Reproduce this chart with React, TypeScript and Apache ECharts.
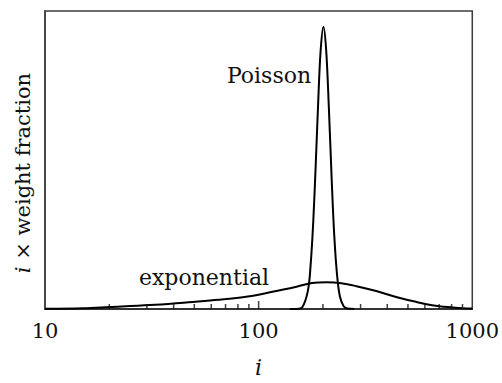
import React, { useEffect, useRef } from "react";
import * as echarts from "echarts";

// exponential (most probable) distribution: i and i × weight fraction (arbitrary units)
const expI = [10, 15, 20, 31, 47, 65, 89, 116, 152, 178, 208, 244, 287, 355, 440, 545, 674, 834, 1000];
const expY = [0.006, 0.016, 0.04, 0.08, 0.14, 0.188, 0.254, 0.35, 0.46, 0.53, 0.546, 0.526, 0.466, 0.366, 0.246, 0.146, 0.066, 0.026, 0.008];

// Poisson distribution
const poiI = [140, 150, 160, 170, 175, 180, 185, 190, 195, 201, 207, 213, 220, 226, 233, 240, 250, 260, 280];
const poiY = [0, 0.001, 0.035, 0.37, 0.88, 1.75, 2.94, 4.22, 5.26, 5.76, 5.29, 4.14, 2.59, 1.49, 0.68, 0.26, 0.054, 0.009, 0];

// x-axis tick positions (log scale)
const minorTickValues = [20, 30, 40, 50, 60, 70, 80, 90, 200, 300, 400, 500, 600, 700, 800, 900];
const majorTickValues = [100];
const xTickLabels = ["10", "100", "1000"];

const seriesNames = ["exponential", "Poisson"];

const FONT = "DejaVu Serif";

export default function App() {
  const ref = useRef<HTMLDivElement>(null);
  useEffect(() => {
    if (!ref.current) return;
    const chart = echarts.init(ref.current, undefined, { renderer: "svg" });
    chart.setOption({
      animation: false,
      backgroundColor: "#ffffff",
      grid: {
        left: 45,
        right: 25,
        top: 11,
        bottom: 68,
        show: true,
        borderColor: "#3c3c3c",
        borderWidth: 1.5,
        backgroundColor: "transparent",
      },
      xAxis: {
        type: "log",
        logBase: 10,
        min: 10,
        max: 1000,
        name: "{it|i}",
        nameLocation: "middle",
        nameGap: 47,
        nameTextStyle: {
          rich: { it: { fontFamily: FONT, fontStyle: "italic", fontSize: 22, color: "#111" } },
        },
        axisLine: { show: true, lineStyle: { color: "#222", width: 1.5 } },
        axisTick: { show: false },
        splitLine: { show: false },
        minorTick: { show: false },
        axisLabel: {
          margin: 11,
          fontFamily: FONT,
          fontSize: 21,
          color: "#111",
          formatter: (v: number) => {
            const s = String(Math.round(v));
            return xTickLabels.includes(s) ? s : "";
          },
        },
      },
      yAxis: {
        type: "value",
        min: 0,
        max: 6.08,
        axisLine: { show: true, lineStyle: { color: "#3c3c3c", width: 1.5 } },
        axisTick: { show: false },
        axisLabel: { show: false },
        splitLine: { show: false },
      },
      series: [
        {
          name: seriesNames[0],
          type: "line",
          data: expI.map((x, k) => [x, expY[k]]),
          showSymbol: false,
          smooth: 0.35,
          clip: true,
          lineStyle: { color: "#000", width: 2 },
          z: 3,
        },
        {
          name: seriesNames[1],
          type: "line",
          data: poiI.map((x, k) => [x, poiY[k]]),
          showSymbol: false,
          smooth: 0.35,
          clip: true,
          lineStyle: { color: "#000", width: 2 },
          z: 3,
        },
        {
          type: "scatter",
          data: minorTickValues.map((v) => [v, 0]),
          symbol: "rect",
          symbolSize: [1.5, 5],
          symbolOffset: [0, -2.5],
          itemStyle: { color: "#111" },
          silent: true,
          clip: false,
          z: 4,
        },
        {
          type: "scatter",
          data: majorTickValues.map((v) => [v, 0]),
          symbol: "rect",
          symbolSize: [1.5, 8],
          symbolOffset: [0, -4],
          itemStyle: { color: "#111" },
          silent: true,
          clip: false,
          z: 4,
        },
      ],
      graphic: [
        {
          type: "text",
          x: 269,
          y: 75,
          style: {
            text: seriesNames[1],
            font: `22px "${FONT}"`,
            fill: "#111",
            textAlign: "center",
            textVerticalAlign: "middle",
          },
        },
        {
          type: "text",
          x: 204,
          y: 277,
          style: {
            text: seriesNames[0],
            font: `22px "${FONT}"`,
            fill: "#111",
            textAlign: "center",
            textVerticalAlign: "middle",
          },
        },
        {
          type: "text",
          x: 23,
          y: 173,
          rotation: Math.PI / 2,
          style: {
            text: "{it|i} × weight fraction",
            font: `21px "${FONT}"`,
            fill: "#111",
            textAlign: "center",
            textVerticalAlign: "middle",
            rich: {
              it: { fontFamily: FONT, fontStyle: "italic", fontSize: 21, fill: "#111" },
            },
          },
        },
      ],
    });
    return () => chart.dispose();
  }, []);
  return <div ref={ref} style={{ width: 502, height: 383, position: "absolute", left: 0, top: 0 }} />;
}
